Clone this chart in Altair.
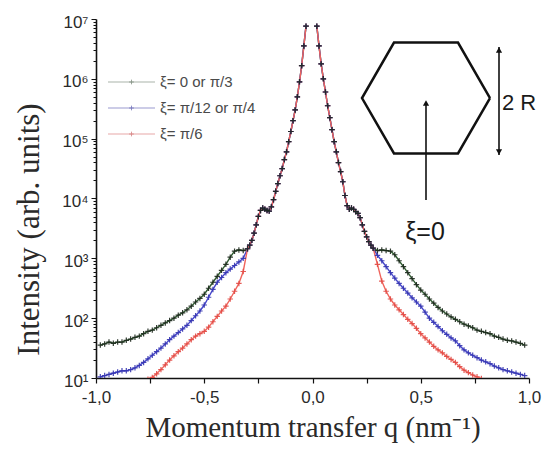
import math
import altair as alt
import pandas as pd

# ---------------------------------------------------------------------------
# Scattering intensity profiles (log10 of intensity) versus momentum transfer q
# ---------------------------------------------------------------------------
series_names = ["ξ= 0 or π/3", "ξ= π/12 or π/4", "ξ= π/6"]

# central part, common to all three orientations
q_center_left = [-0.30, -0.29, -0.28, -0.27, -0.26, -0.25, -0.24, -0.23, -0.22, -0.21,
                 -0.20, -0.19, -0.18, -0.17, -0.16, -0.15, -0.14, -0.13, -0.12, -0.11,
                 -0.10, -0.09, -0.08, -0.07, -0.06, -0.05, -0.04, -0.03]
logI_center_left = [3.16, 3.22, 3.30, 3.42, 3.56, 3.70, 3.80, 3.84, 3.82, 3.80,
                    3.79, 3.86, 3.98, 4.12, 4.25, 4.38, 4.50, 4.65, 4.78, 4.95,
                    5.12, 5.30, 5.48, 5.70, 5.95, 6.22, 6.55, 6.88]
q_center_right = [0.02, 0.03, 0.04, 0.05, 0.06, 0.07, 0.08, 0.09, 0.10, 0.11,
                  0.12, 0.13, 0.14, 0.15, 0.16, 0.17, 0.18, 0.19, 0.20, 0.21,
                  0.22, 0.23, 0.24, 0.25, 0.26, 0.27, 0.28]
logI_center_right = [6.88, 6.55, 6.25, 6.00, 5.78, 5.55, 5.35, 5.15, 4.95, 4.78,
                     4.60, 4.45, 4.28, 4.05, 3.88, 3.82, 3.84, 3.82, 3.78, 3.75,
                     3.68, 3.56, 3.45, 3.36, 3.28, 3.22, 3.17]

# wings (outer q), where the orientations differ
q_wing_left = [-0.32, -0.34, -0.36, -0.38, -0.40, -0.42, -0.44, -0.46, -0.48, -0.50,
               -0.52, -0.54, -0.56, -0.58, -0.60, -0.62, -0.64, -0.66, -0.68, -0.70,
               -0.72, -0.74, -0.76, -0.78, -0.80, -0.82, -0.84, -0.86, -0.88, -0.90,
               -0.92, -0.94, -0.96, -0.98]
q_wing_right = [0.30, 0.32, 0.34, 0.36, 0.38, 0.40, 0.42, 0.44, 0.46, 0.48,
                0.50, 0.52, 0.54, 0.56, 0.58, 0.60, 0.62, 0.64, 0.66, 0.68,
                0.70, 0.72, 0.74, 0.76, 0.78, 0.80, 0.82, 0.84, 0.86, 0.88,
                0.90, 0.92, 0.94, 0.96, 0.98]

green_left = [3.13, 3.14, 3.12, 3.02, 2.90, 2.80, 2.70, 2.60, 2.50, 2.40,
              2.33, 2.27, 2.20, 2.14, 2.09, 2.05, 2.00, 1.96, 1.92, 1.88,
              1.84, 1.80, 1.78, 1.74, 1.70, 1.68, 1.65, 1.63, 1.60, 1.60,
              1.58, 1.60, 1.57, 1.55]
blue_left = [3.00, 2.94, 2.88, 2.82, 2.76, 2.68, 2.60, 2.48, 2.35, 2.22,
             2.12, 2.04, 1.96, 1.88, 1.82, 1.76, 1.70, 1.64, 1.57, 1.50,
             1.44, 1.38, 1.32, 1.26, 1.21, 1.17, 1.14, 1.12, 1.12, 1.10,
             1.08, 1.06, 1.04, 1.02]
red_left = [2.78, 2.58, 2.45, 2.32, 2.20, 2.12, 2.03, 1.94, 1.85, 1.78,
            1.74, 1.70, 1.64, 1.57, 1.50, 1.44, 1.37, 1.30, 1.22, 1.14,
            1.07, 1.01, 0.98]

green_right = [3.13, 3.14, 3.13, 3.12, 3.06, 2.96, 2.86, 2.76, 2.66, 2.56,
               2.47, 2.40, 2.32, 2.25, 2.18, 2.12, 2.07, 2.02, 1.98, 1.94,
               1.90, 1.87, 1.84, 1.80, 1.78, 1.76, 1.74, 1.70, 1.68, 1.65,
               1.63, 1.62, 1.60, 1.58, 1.55]
blue_right = [3.05, 2.96, 2.86, 2.76, 2.67, 2.58, 2.50, 2.42, 2.34, 2.27,
              2.20, 2.10, 2.00, 1.93, 1.86, 1.79, 1.73, 1.67, 1.62, 1.54,
              1.47, 1.42, 1.38, 1.34, 1.30, 1.27, 1.24, 1.20, 1.17, 1.14,
              1.12, 1.10, 1.08, 1.06, 1.04]
red_right = [2.90, 2.62, 2.45, 2.32, 2.22, 2.14, 2.06, 1.98, 1.91, 1.83,
             1.74, 1.67, 1.60, 1.53, 1.47, 1.42, 1.36, 1.31, 1.26, 1.19,
             1.13, 1.09, 1.05, 1.02, 0.99]

line_colors = ["#2f5a30", "#4646cc", "#f0645c"]
marker_colors = ["#1c281c", "#3535b0", "#e24a44"]
legend_line_colors = ["#a9b4a9", "#9a9ad0", "#e8a8a8"]
legend_marker_colors = ["#708070", "#6060b0", "#d07070"]

rows = []
for name, wl, wr in zip(series_names,
                        [green_left, blue_left, red_left],
                        [green_right, blue_right, red_right]):
    lq = list(reversed(q_wing_left[:len(wl)])) + q_center_left
    lv = list(reversed(wl)) + logI_center_left
    for q, v in zip(lq, lv):
        rows.append({"series": name, "side": "L", "q": q, "I": 10 ** v})
    rq = q_center_right + q_wing_right[:len(wr)]
    rv = logI_center_right + wr
    for q, v in zip(rq, rv):
        rows.append({"series": name, "side": "R", "q": q, "I": 10 ** v})
df = pd.DataFrame(rows)

# ---------------------------------------------------------------------------
# Axes
# ---------------------------------------------------------------------------
W, H = 433, 359
sans = "Liberation Sans"
serif = "Liberation Serif"

x_ticks = [-1, -0.75, -0.5, -0.25, 0, 0.25, 0.5, 0.75, 1]
y_ticks = [m * 10 ** n for n in range(1, 7) for m in range(1, 10)] + [10 ** 7]

x_enc = alt.X(
    "q:Q",
    scale=alt.Scale(domain=[-1, 1], nice=False, zero=False),
    axis=alt.Axis(
        values=x_ticks,
        labelExpr="abs((datum.value * 4) % 2) > 0.01 ? '' : "
                  "(datum.value < 0 ? '-' : '') + replace(format(abs(datum.value), '.1f'), '.', ',')",
        title="Momentum transfer q (nm⁻¹)",
        titleFont=serif, titleFontSize=29, titleFontWeight="normal", titleColor="#2a2a2a",
        titleX=W / 2, titleY=58, titleBaseline="alphabetic", titleAlign="center",
        labelFont=sans, labelFontSize=17, labelColor="#2a2a2a", labelPadding=6,
        labelOverlap=False, labelFlush=False,
        tickSize=5, tickColor="#111", tickWidth=1.2,
        domainColor="#111", domainWidth=1.6, grid=False,
    ),
)

y_enc = alt.Y(
    "I:Q",
    scale=alt.Scale(type="log", domain=[10, 1e7], nice=False),
    axis=alt.Axis(
        values=y_ticks,
        labelExpr="abs(log(datum.value) / LN10 - round(log(datum.value) / LN10)) < 0.001 ? "
                  "'10' + ['⁰','¹','²','³','⁴','⁵','⁶','⁷'][round(log(datum.value) / LN10)] : ''",
        title="Intensity (arb. units)",
        titleFont=serif, titleFontSize=31, titleFontWeight="normal", titleColor="#2a2a2a",
        titleX=-67, titleY=210, titleAngle=-90, titleBaseline="middle", titleAlign="center",
        labelFont=sans, labelFontSize=17, labelColor="#2a2a2a", labelPadding=3,
        labelOffset=3, labelOverlap=False, labelFlush=False,
        tickSize={"condition": {"test": "abs(log(datum.value) / LN10 - round(log(datum.value) / LN10)) < 0.001",
                                "value": 5}, "value": 3},
        tickColor="#111", tickWidth=1,
        domainColor="#111", domainWidth=1.6, grid=False,
    ),
)

# ---------------------------------------------------------------------------
# Data layers: lines first, then the "+" markers (dark series on top)
# ---------------------------------------------------------------------------
cross = "M-1,0L1,0M0,-1L0,1"
line_layers = []
point_layers = []
for i, name in enumerate(series_names):
    base = alt.Chart(df).transform_filter(alt.datum.series == name)
    line_layers.append(
        base.mark_line(color=line_colors[i], strokeWidth=1.4, clip=True)
        .encode(x=x_enc, y=y_enc, detail="side:N", order="q:Q")
    )
    point_layers.append(
        base.mark_point(shape=cross, size=30, strokeWidth=1.2, color=marker_colors[i],
                        opacity=0.9, clip=True)
        .encode(x=x_enc, y=y_enc)
    )
point_layers = list(reversed(point_layers))

# ---------------------------------------------------------------------------
# Legend (drawn in plot pixels)
# ---------------------------------------------------------------------------
leg_x1, leg_x2, leg_y0, leg_dy = 12, 59, 63, 26
leg_df = pd.DataFrame({
    "label": series_names,
    "x1": [leg_x1] * 3,
    "x2": [leg_x2] * 3,
    "xm": [(leg_x1 + leg_x2) / 2] * 3,
    "xt": [leg_x2 + 5] * 3,
    "y": [leg_y0 + k * leg_dy for k in range(3)],
    "lc": legend_line_colors,
    "mc": legend_marker_colors,
})
px = lambda f: alt.X(f, scale=None, axis=None)
py = lambda f: alt.Y(f, scale=None, axis=None)

leg_lines = alt.Chart(leg_df).mark_rule(strokeWidth=1.2).encode(
    x=px("x1:Q"), x2="x2:Q", y=py("y:Q"), color=alt.Color("lc:N", scale=None))
leg_marks = alt.Chart(leg_df).mark_point(shape=cross, size=22, strokeWidth=1).encode(
    x=px("xm:Q"), y=py("y:Q"), color=alt.Color("mc:N", scale=None))
leg_text = alt.Chart(leg_df).mark_text(align="left", baseline="middle", font=sans,
                                       fontSize=15, color="#4a4a4a").encode(
    x=px("xt:Q"), y=py("y:Q"), text="label:N")

# ---------------------------------------------------------------------------
# Hexagon sketch with orientation arrow and size marker
# ---------------------------------------------------------------------------
hx, hy, hr = 330, 79, 64
hex_df = pd.DataFrame({
    "k": list(range(7)),
    "x": [hx + hr * math.cos(math.radians(60 * k)) for k in range(7)],
    "y": [hy - hr * math.sin(math.radians(60 * k)) for k in range(7)],
})
hexagon = alt.Chart(hex_df).mark_line(color="#111", strokeWidth=2.5, strokeJoin="miter").encode(
    x=px("x:Q"), y=py("y:Q"), order="k:Q")

arrows_df = pd.DataFrame({
    "x": [hx, 403],
    "y1": [hy + 4, 28],
    "y2": [hy + 102, 136],
})
arrow_lines = alt.Chart(arrows_df).mark_rule(color="#111", strokeWidth=1.6).encode(
    x=px("x:Q"), y=py("y1:Q"), y2="y2:Q")

heads_df = pd.DataFrame({
    "x": [hx, 403, 403],
    "y": [hy + 5, 31, 133],
    "shape": ["triangle-up", "triangle-up", "triangle-down"],
})
arrow_heads = alt.Chart(heads_df).mark_point(filled=True, color="#111", size=38, opacity=1).encode(
    x=px("x:Q"), y=py("y:Q"), shape=alt.Shape("shape:N", scale=None))

notes_df = pd.DataFrame({
    "x": [406, hx - 1],
    "y": [84, 213],
    "text": ["2 R", "ξ=0"],
})
note_2r = alt.Chart(notes_df.iloc[[0]]).mark_text(
    align="left", baseline="middle", font=sans, fontSize=22, color="#1a1a1a").encode(
    x=px("x:Q"), y=py("y:Q"), text="text:N")
note_xi = alt.Chart(notes_df.iloc[[1]]).mark_text(
    align="center", baseline="middle", font=sans, fontSize=25, color="#1a1a1a").encode(
    x=px("x:Q"), y=py("y:Q"), text="text:N")

chart = alt.layer(
    *line_layers, *point_layers,
    leg_lines, leg_marks, leg_text,
    hexagon, arrow_lines, arrow_heads, note_2r, note_xi,
).properties(
    width=W, height=H,
    autosize=alt.AutoSizeParams(type="none"),
    padding={"left": 96, "top": 19, "right": 15, "bottom": 81},
    background="white",
).configure_view(stroke=None)

chart.save("out.html", embed_options={"renderer": "svg", "actions": False})
